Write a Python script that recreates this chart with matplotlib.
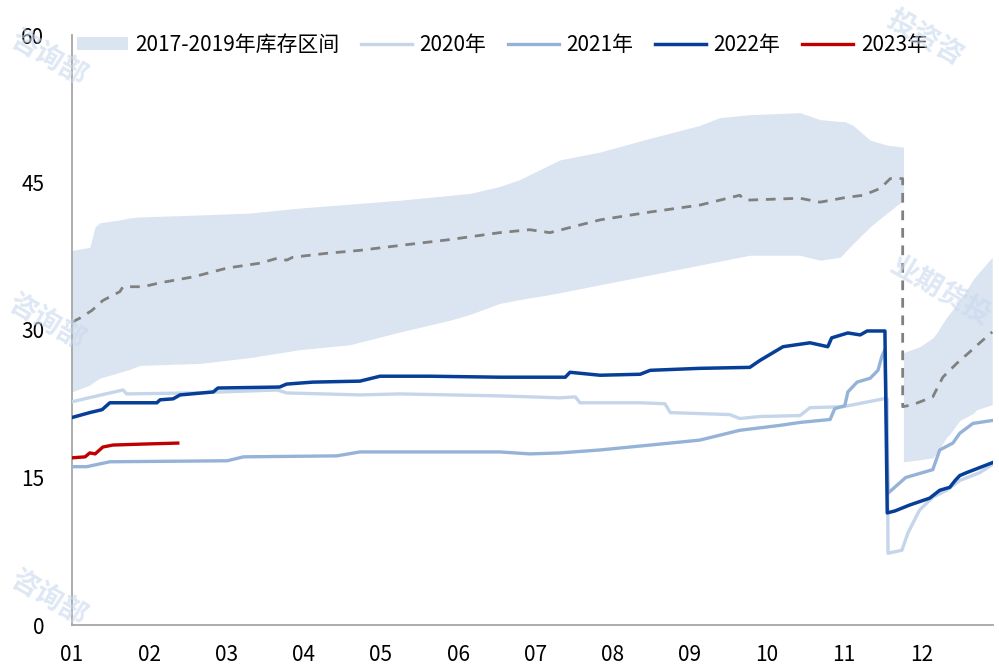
import matplotlib
matplotlib.use("Agg")
import matplotlib.pyplot as plt
import numpy as np

plt.rcParams['font.family'] = ['Noto Sans CJK SC', 'DejaVu Sans']

# x positions are in month units (0 = "01", 11 = "12")
month_labels = ["01", "02", "03", "04", "05", "06", "07", "08", "09", "10", "11", "12"]

band_x = [0.00, 0.23, 0.30, 0.36, 0.62, 0.75, 0.88, 1.66, 2.31, 2.95, 3.60, 4.25, 4.90, 5.16, 5.54, 5.80,
          6.19, 6.32, 6.84, 7.49, 8.13, 8.39, 8.78, 9.43, 9.69, 9.95, 10.01, 10.12, 10.34, 10.56, 10.77,
          10.77, 10.98, 11.15, 11.20, 11.33, 11.37, 11.50, 11.67, 11.72, 11.92]
band_hi = [38.1, 38.4, 40.5, 40.9, 41.2, 41.4, 41.5, 41.7, 41.9, 42.4, 42.8, 43.2, 43.7, 43.9, 44.6, 45.3,
           46.8, 47.3, 48.1, 49.5, 50.8, 51.6, 51.9, 52.1, 51.4, 51.2, 51.2, 50.8, 49.3, 48.8, 48.6,
           27.7, 28.3, 29.2, 29.7, 31.3, 31.7, 33.0, 35.1, 35.6, 37.4]
band_lo = [23.7, 24.4, 24.8, 25.1, 25.7, 26.0, 26.4, 26.6, 27.2, 28.0, 28.5, 29.8, 31.0, 31.6, 32.7, 33.1,
           33.6, 33.8, 34.6, 35.6, 36.6, 37.0, 37.6, 37.6, 37.1, 37.4, 37.9, 38.8, 40.5, 41.9, 43.2,
           16.6, 16.8, 17.0, 17.5, 19.1, 19.4, 20.8, 21.5, 21.9, 22.4]

mean_x = [0.00, 0.10, 0.26, 0.40, 0.62, 0.66, 0.92, 1.14, 1.57, 2.01, 2.44, 2.66, 2.78, 2.86, 3.30,
          3.73, 4.25, 4.90, 5.54, 5.93, 6.19, 6.84, 7.49, 8.13, 8.39, 8.65, 8.72, 9.43, 9.69, 10.04,
          10.25, 10.47, 10.60, 10.76, 10.76, 10.89, 11.15, 11.28, 11.46, 11.59, 11.76, 11.92]
mean_v = [30.8, 31.2, 32.0, 33.0, 33.9, 34.4, 34.4, 34.8, 35.4, 36.3, 36.8, 37.3, 37.1, 37.4, 37.8,
          38.1, 38.6, 39.2, 39.9, 40.2, 39.9, 41.2, 42.0, 42.7, 43.2, 43.7, 43.2, 43.4, 43.0, 43.5,
          43.7, 44.4, 45.4, 45.4, 22.2, 22.4, 23.2, 25.2, 26.6, 27.5, 28.7, 29.8]

y2020_x = [0.00, 0.27, 0.66, 0.71, 1.57, 2.66, 2.78, 3.73, 4.25, 5.54, 6.32, 6.52, 6.58, 7.36, 7.68,
           7.75, 8.52, 8.65, 8.91, 9.43, 9.56, 9.99, 10.51, 10.56, 10.57, 10.75, 10.83, 10.98, 11.15,
           11.33, 11.50, 11.76, 11.92]
y2020_v = [22.7, 23.2, 23.9, 23.5, 23.6, 23.9, 23.6, 23.4, 23.5, 23.3, 23.1, 23.2, 22.6, 22.6, 22.5,
           21.6, 21.4, 21.0, 21.2, 21.3, 22.1, 22.2, 23.0, 23.0, 7.3, 7.6, 9.4, 11.7, 13.0,
           13.7, 14.7, 15.5, 16.3]

y2021_x = [0.00, 0.19, 0.49, 2.01, 2.22, 3.43, 3.73, 5.54, 5.93, 6.32, 6.84, 7.49, 8.13, 8.65, 9.17,
           9.43, 9.82, 9.88, 10.01, 10.05, 10.17, 10.34, 10.44, 10.49, 10.53, 10.57, 10.80, 11.15,
           11.24, 11.41, 11.50, 11.67, 11.92]
y2021_v = [16.1, 16.1, 16.6, 16.7, 17.1, 17.2, 17.6, 17.6, 17.4, 17.5, 17.8, 18.3, 18.8, 19.8, 20.3,
           20.6, 20.9, 22.0, 22.3, 23.7, 24.7, 25.1, 25.9, 27.3, 28.0, 13.4, 15.0, 15.8,
           17.8, 18.5, 19.5, 20.5, 20.8]

y2022_x = [0.00, 0.23, 0.39, 0.49, 1.10, 1.14, 1.31, 1.40, 1.83, 1.89, 2.69, 2.78, 3.12, 3.73, 3.99,
           4.64, 5.54, 6.39, 6.45, 6.84, 7.36, 7.49, 8.13, 8.78, 8.91, 9.21, 9.56, 9.79, 9.84, 10.05,
           10.21, 10.30, 10.53, 10.56, 10.66, 10.85, 11.11, 11.24, 11.37, 11.44, 11.50, 11.59, 11.92]
y2022_v = [21.1, 21.6, 21.9, 22.6, 22.6, 22.9, 23.0, 23.4, 23.7, 24.1, 24.2, 24.5, 24.7, 24.8, 25.3,
           25.3, 25.2, 25.2, 25.7, 25.4, 25.5, 25.9, 26.1, 26.2, 26.9, 28.3, 28.7, 28.3, 29.2, 29.7,
           29.5, 29.9, 29.9, 11.4, 11.6, 12.2, 12.9, 13.7, 14.0, 14.7, 15.2, 15.5, 16.5]

y2023_x = [0.00, 0.17, 0.23, 0.30, 0.40, 0.53, 0.92, 1.37]
y2023_v = [17.0, 17.1, 17.5, 17.4, 18.1, 18.3, 18.4, 18.5]

fig = plt.figure(figsize=(9.99, 6.68), dpi=100)
ax = fig.add_axes([72/999, 43/668, (993-72)/999, (625-35)/668])

ax.fill_between(band_x, band_lo, band_hi, color='#dbe5f1', linewidth=0, label='2017-2019年库存区间', zorder=1)
ax.plot(mean_x, mean_v, color='#808080', lw=2.0, dashes=(3.5, 2.8), zorder=2)
ax.plot(y2020_x, y2020_v, color='#c5d6ea', lw=2.4, label='2020年', zorder=3)
ax.plot(y2021_x, y2021_v, color='#95b3d7', lw=2.4, label='2021年', zorder=3)
ax.plot(y2022_x, y2022_v, color='#073f98', lw=2.5, label='2022年', zorder=4)
ax.plot(y2023_x, y2023_v, color='#c00000', lw=2.4, label='2023年', zorder=5)

ax.set_xlim(0, 11.93)
ax.set_ylim(0, 60)
ax.set_yticks([0, 15, 30, 45, 60])
ax.set_xticks(range(12))
ax.set_xticklabels(month_labels)
ax.tick_params(axis='both', length=0, labelsize=15)
ax.tick_params(axis='y', pad=20)
ax.tick_params(axis='x', pad=14)
for s in ['top', 'right']:
    ax.spines[s].set_visible(False)
for s in ['left', 'bottom']:
    ax.spines[s].set_color('#a6a6a6')
    ax.spines[s].set_linewidth(1.3)

leg = ax.legend(loc='center left', bbox_to_anchor=(0.005, 0.983), ncol=5, frameon=False,
                fontsize=15, handlelength=2.45, handleheight=0.6, handletextpad=0.35,
                columnspacing=1.05, borderaxespad=0, borderpad=0)

# watermark fragments
wm_color = '#c9d8ee'
for (x, y, s) in [(48/999, 1-58/668, "咨询部"), (925/999, 1-38/668, "投资咨"),
                  (940/999, 1-292/668, "业期货投"), (46/999, 1-322/668, "咨询部"),
                  (48/999, 1-598/668, "咨询部")]:
    fig.text(x, y, s, color=wm_color, alpha=0.6, fontsize=20, fontweight='bold',
             rotation=-30, ha='center', va='center', zorder=0)

fig.savefig('out.png', dpi=100)
